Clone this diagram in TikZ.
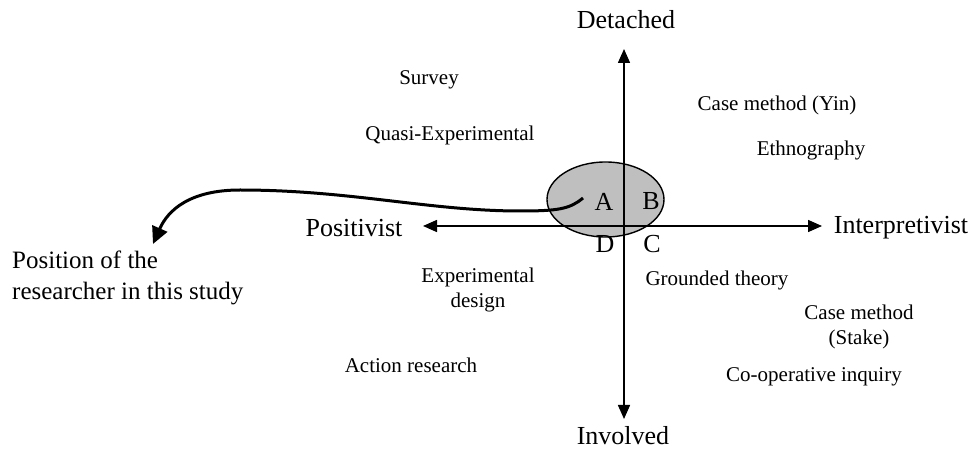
\documentclass[tikz,border=0pt]{standalone}
\usepackage{fontspec}
\setmainfont{Liberation Serif}
\usetikzlibrary{arrows.meta,shapes.geometric}
\begin{document}
\begin{tikzpicture}[x=1bp,y=-1bp,
  big/.style={inner sep=0pt, font=\fontsize{26bp}{30bp}\selectfont},
  small/.style={inner sep=0pt, align=center, font=\fontsize{21bp}{25bp}\selectfont},
  axis/.style={line width=1.5bp, {Triangle[length=14bp,width=12bp]}-{Triangle[length=14bp,width=12bp]}},
  posarrow/.style={line width=3bp, -{Triangle[length=17bp,width=16bp]}},
  blob/.style={ellipse, draw, line width=1.4bp, fill=gray!50!white, minimum width=117bp, minimum height=75bp, inner sep=0pt}
]
\useasboundingbox (0,0) rectangle (974,451);
% ellipse
\node[blob] (E) at (605.5,199.5) {};
% axes
\coordinate (T) at (624,49);
\coordinate (Bt) at (624,419);
\coordinate (L) at (423,226);
\coordinate (R) at (822,226);
\draw[axis] (T) -- (Bt);
\draw[axis] (L) -- (R);
% axis labels
\node[big] (det) at (626,20) {Detached};
\node[big] (inv) at (623,436) {Involved};
\node[big] (pos) at (354,228) {Positivist};
\node[big] (int) at (901,228) {Interpretivist};
% quadrant letters
\node[big] (A) at (604,202) {A};
\node[big] (B) at (651,201) {B};
\node[big] (D) at (605,244) {D};
\node[big] (C) at (652,244) {C};
% methods
\node[small] (survey) at (429,80) {Survey};
\node[small] (quasi) at (450,135) {Quasi-Experimental};
\node[small] (yin) at (777,105) {Case method (Yin)};
\node[small] (eth) at (811,150) {Ethnography};
\node[small] (exp) at (478,290) {Experimental\\design};
\node[small] (act) at (411,365) {Action research};
\node[small] (gt) at (717,280) {Grounded theory};
\node[small] (stake) at (859,327) {Case method\\(Stake)};
\node[small] (coop) at (814,377) {Co-operative inquiry};
% researcher position
\node[big, align=left, anchor=north west, font=\fontsize{25bp}{31bp}\selectfont] (res) at (12,251) {Position of the\\researcher in this study};
\coordinate (S) at (583,198);
\coordinate (tip) at (153,244);
\draw[posarrow] (S) .. controls (570,209) and (558,211) .. (520,211)
  .. controls (430,211) and (350,190) .. (240,190)
  .. controls (190,190) and (168,210) .. (tip);
\end{tikzpicture}
\end{document}
